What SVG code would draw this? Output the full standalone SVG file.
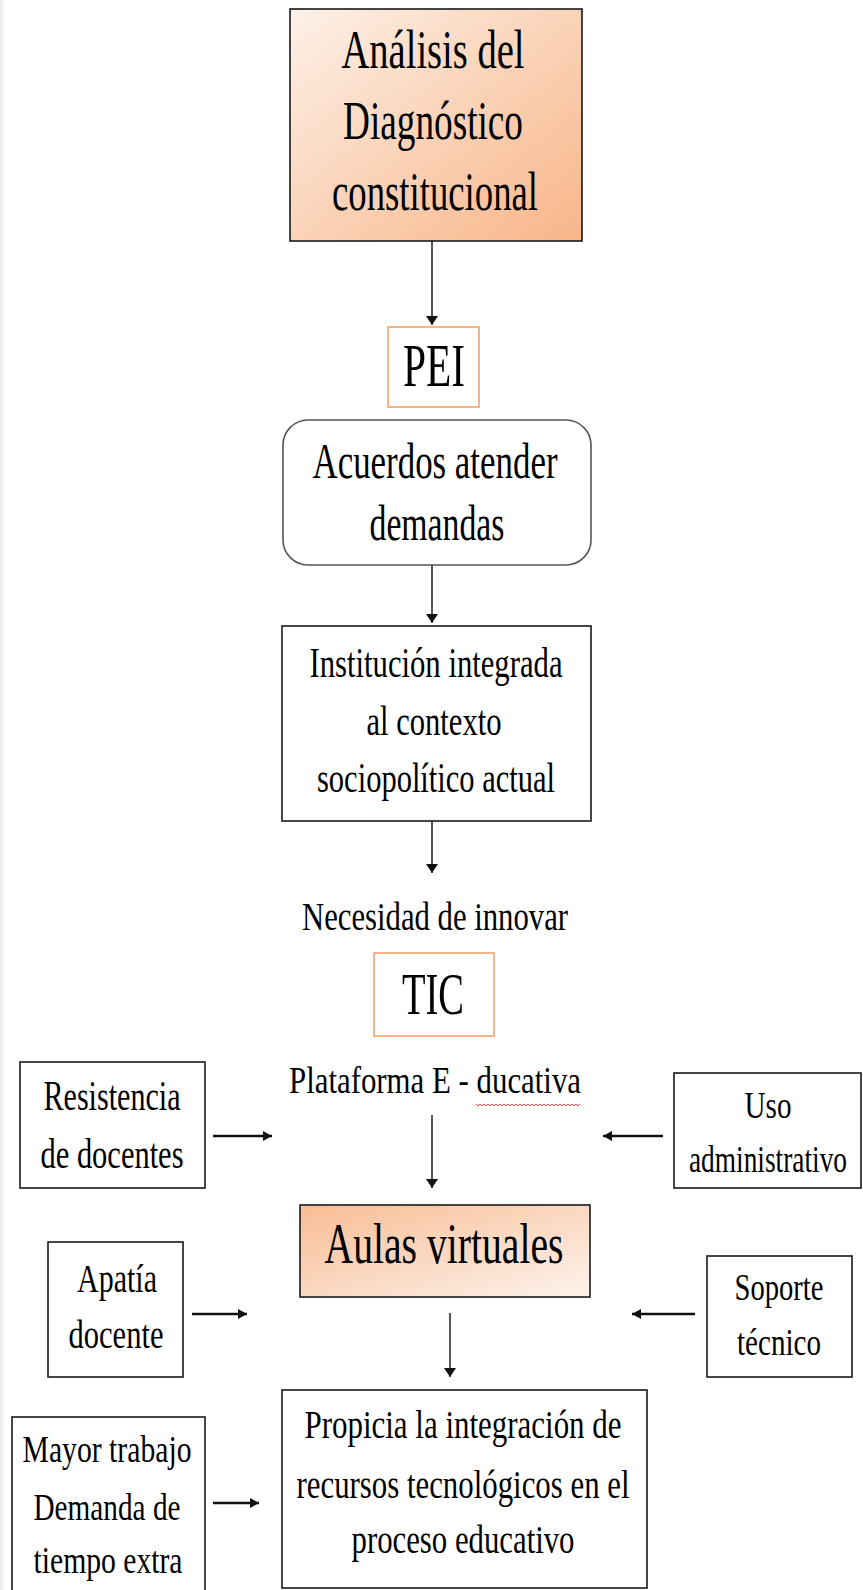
<svg xmlns="http://www.w3.org/2000/svg" width="863" height="1590" viewBox="0 0 863 1590">
<defs>
<linearGradient id="gTitle" x1="0" y1="0" x2="1" y2="1">
<stop offset="0" stop-color="#fdf1e8"/>
<stop offset="1" stop-color="#f8b588"/>
</linearGradient>
<linearGradient id="gAulas" x1="0" y1="0" x2="1" y2="1">
<stop offset="0" stop-color="#f8bd95"/>
<stop offset="1" stop-color="#fdf3ec"/>
</linearGradient>
<marker id="ah" viewBox="0 0 10 10" refX="10" refY="5" markerWidth="9" markerHeight="12" markerUnits="userSpaceOnUse" orient="auto" preserveAspectRatio="none">
<path d="M0,0 L10,5 L0,10 z" fill="#111"/>
</marker>
<marker id="ahs" viewBox="0 0 10 10" refX="10" refY="5" markerWidth="9" markerHeight="10" markerUnits="userSpaceOnUse" orient="auto" preserveAspectRatio="none">
<path d="M0,0 L10,5 L0,10 z" fill="#111"/>
</marker>
</defs>
<style>
text{font-family:"Liberation Serif","Times New Roman",serif;fill:#000;text-anchor:middle}
.box{fill:#fff;stroke:#1a1a1a;stroke-width:1.6}
.obox{fill:#fff;stroke:#f7a26a;stroke-width:1.6}
.v{stroke:#111;stroke-width:1.4;fill:none;marker-end:url(#ah)}
.h{stroke:#111;stroke-width:2.6;fill:none;marker-end:url(#ahs)}
</style>
<rect x="0" y="0" width="863" height="1590" fill="#fff"/>
<rect x="0" y="0" width="3" height="1590" fill="#efefef"/>

<g id="connectors">
<line class="v" x1="432" y1="241" x2="432" y2="325"/>
<line class="v" x1="432" y1="565" x2="432" y2="623"/>
<line class="v" x1="432" y1="821" x2="432" y2="873"/>
<line class="v" x1="432" y1="1115" x2="432" y2="1188"/>
<line class="h" x1="213" y1="1136" x2="272" y2="1136"/>
<line class="h" x1="663" y1="1136" x2="603" y2="1136"/>
<line class="v" x1="450" y1="1313" x2="450" y2="1377"/>
<line class="h" x1="192" y1="1314" x2="247" y2="1314"/>
<line class="h" x1="695" y1="1314" x2="632" y2="1314"/>
<line class="h" x1="213" y1="1503" x2="259" y2="1503"/>
</g>

<g id="analisis">
<rect x="290" y="9" width="292" height="232" fill="url(#gTitle)" stroke="#1a1a1a" stroke-width="1.6"/>
<text x="433" y="68" font-size="54" textLength="183" lengthAdjust="spacingAndGlyphs">Análisis del</text>
<text x="433" y="139" font-size="54" textLength="180" lengthAdjust="spacingAndGlyphs">Diagnóstico</text>
<text x="435" y="210" font-size="54" textLength="206" lengthAdjust="spacingAndGlyphs">constitucional</text>
</g>

<g id="pei">
<rect class="obox" x="388" y="327" width="91" height="80"/>
<text x="434" y="386" font-size="62" textLength="62" lengthAdjust="spacingAndGlyphs">PEI</text>
</g>

<g id="acuerdos">
<rect x="283" y="420" width="308" height="145" rx="25" ry="25" fill="#fff" stroke="#555" stroke-width="1.6"/>
<text x="435" y="478" font-size="50" textLength="245" lengthAdjust="spacingAndGlyphs">Acuerdos atender</text>
<text x="437" y="540" font-size="50" textLength="135" lengthAdjust="spacingAndGlyphs">demandas</text>
</g>

<g id="institucion">
<rect class="box" x="282" y="626" width="309" height="195"/>
<text x="436" y="677" font-size="42" textLength="253" lengthAdjust="spacingAndGlyphs">Institución integrada</text>
<text x="434" y="735" font-size="42" textLength="135" lengthAdjust="spacingAndGlyphs">al contexto</text>
<text x="436" y="792" font-size="42" textLength="238" lengthAdjust="spacingAndGlyphs">sociopolítico actual</text>
</g>

<g id="necesidad">
<text x="435" y="930" font-size="41" textLength="266" lengthAdjust="spacingAndGlyphs">Necesidad de innovar</text>
</g>

<g id="tic">
<rect class="obox" x="374" y="953" width="120" height="83"/>
<text x="433" y="1014" font-size="60" textLength="62" lengthAdjust="spacingAndGlyphs">TIC</text>
</g>

<g id="plataforma">
<text x="435" y="1093" font-size="38" textLength="292" lengthAdjust="spacingAndGlyphs">Plataforma E - ducativa</text>
<path d="M476,1104 l2,2 l2,-2 l2,2 l2,-2 l2,2 l2,-2 l2,2 l2,-2 l2,2 l2,-2 l2,2 l2,-2 l2,2 l2,-2 l2,2 l2,-2 l2,2 l2,-2 l2,2 l2,-2 l2,2 l2,-2 l2,2 l2,-2 l2,2 l2,-2 l2,2 l2,-2 l2,2 l2,-2 l2,2 l2,-2 l2,2 l2,-2 l2,2 l2,-2 l2,2 l2,-2 l2,2 l2,-2 l2,2 l2,-2 l2,2 l2,-2 l2,2 l2,-2 l2,2 l2,-2 l2,2 l2,-2 l2,2 l2,-2" fill="none" stroke="#e03030" stroke-width="0.9"/>
</g>

<g id="resistencia">
<rect class="box" x="20" y="1062" width="185" height="126"/>
<text x="112" y="1110" font-size="42" textLength="137" lengthAdjust="spacingAndGlyphs">Resistencia</text>
<text x="112" y="1168" font-size="42" textLength="143" lengthAdjust="spacingAndGlyphs">de docentes</text>
</g>

<g id="uso">
<rect class="box" x="674" y="1073" width="187" height="115"/>
<text x="768" y="1118" font-size="38" textLength="47" lengthAdjust="spacingAndGlyphs">Uso</text>
<text transform="translate(768,1172) scale(0.72,1)" x="0" y="0" font-size="38">administrativo</text>
</g>

<g id="aulas">
<rect x="300" y="1205" width="290" height="92" fill="url(#gAulas)" stroke="#1a1a1a" stroke-width="1.6"/>
<text x="444" y="1263" font-size="56" textLength="239" lengthAdjust="spacingAndGlyphs">Aulas virtuales</text>
</g>

<g id="apatia">
<rect class="box" x="48" y="1242" width="135" height="135"/>
<text x="117" y="1292" font-size="40" textLength="80" lengthAdjust="spacingAndGlyphs">Apatía</text>
<text x="116" y="1348" font-size="40" textLength="95" lengthAdjust="spacingAndGlyphs">docente</text>
</g>

<g id="soporte">
<rect class="box" x="707" y="1256" width="145" height="121"/>
<text x="779" y="1300" font-size="38" textLength="89" lengthAdjust="spacingAndGlyphs">Soporte</text>
<text x="779" y="1355" font-size="38" textLength="84" lengthAdjust="spacingAndGlyphs">técnico</text>
</g>

<g id="mayor">
<rect class="box" x="12" y="1417" width="193" height="185"/>
<text x="107" y="1462" font-size="38" textLength="169" lengthAdjust="spacingAndGlyphs">Mayor trabajo</text>
<text x="107" y="1520" font-size="38" textLength="147" lengthAdjust="spacingAndGlyphs">Demanda de</text>
<text x="108" y="1573" font-size="38" textLength="149" lengthAdjust="spacingAndGlyphs">tiempo extra</text>
</g>

<g id="propicia">
<rect class="box" x="282" y="1390" width="365" height="198"/>
<text x="463" y="1438" font-size="40" textLength="317" lengthAdjust="spacingAndGlyphs">Propicia la integración de</text>
<text x="463" y="1498" font-size="40" textLength="333" lengthAdjust="spacingAndGlyphs">recursos tecnológicos en el</text>
<text x="463" y="1553" font-size="40" textLength="223" lengthAdjust="spacingAndGlyphs">proceso educativo</text>
</g>
</svg>
